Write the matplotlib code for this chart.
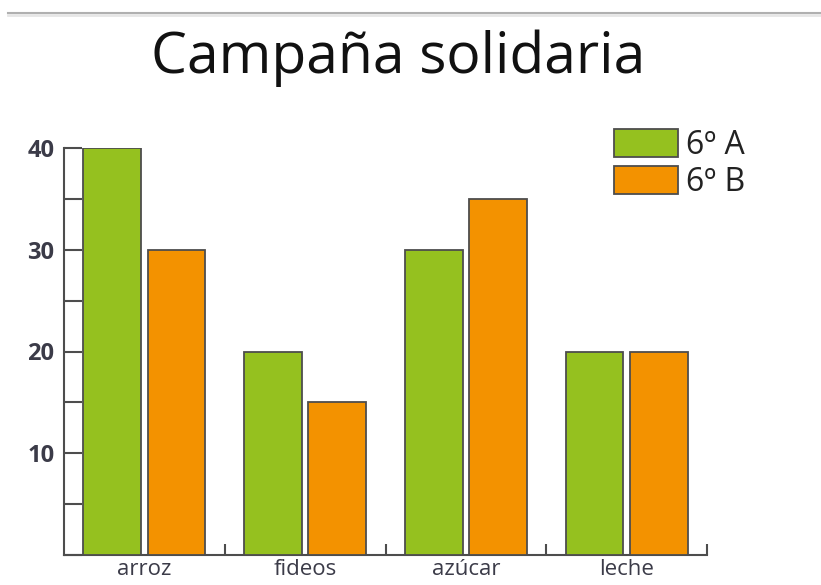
import numpy as np
import matplotlib.pyplot as plt
from matplotlib.lines import Line2D

# data
categories = ["arroz", "fideos", "azúcar", "leche"]
grupo_a = [40, 20, 30, 20]
grupo_b = [30, 15, 35, 20]
series_names = ["6º A", "6º B"]
y_labels = [10, 20, 30, 40]

green = "#95c11f"
orange = "#f39200"
edge = "#4d4d4d"
txt = "#3b3b48"

plt.rcParams['font.family'] = ['Open Sans', 'DejaVu Sans']

fig = plt.figure(figsize=(8.21, 5.85), dpi=100)
ax = fig.add_axes([64/821, 30/585, 643/821, 407/585])

x = np.arange(len(categories))
w = 0.36
ax.bar(x - 0.2, grupo_a, width=w, color=green, edgecolor=edge, linewidth=1.3,
       label=series_names[0], zorder=3)
ax.bar(x + 0.2, grupo_b, width=w, color=orange, edgecolor=edge, linewidth=1.3,
       label=series_names[1], zorder=3)

ax.set_xlim(-0.5, 3.5)
ax.set_ylim(0, 40)

for s in ["top", "right"]:
    ax.spines[s].set_visible(False)
ax.spines["left"].set_color(edge)
ax.spines["bottom"].set_color(edge)
ax.spines["left"].set_linewidth(1.5)
ax.spines["bottom"].set_linewidth(1.5)

ax.set_yticks(np.arange(0, 41, 5))
ax.set_yticklabels(["" if v not in y_labels else str(v) for v in range(0, 41, 5)])
ax.tick_params(axis="y", direction="in", length=13, width=1.5, color=edge,
               labelsize=17, labelcolor=txt, pad=7)
for lab in ax.get_yticklabels():
    lab.set_fontweight("bold")

ax.set_xticks(x)
ax.set_xticklabels(categories)
ax.tick_params(axis="x", length=0, labelsize=16, labelcolor=txt, pad=3)
ax.set_xticks([0.5, 1.5, 2.5, 3.5], minor=True)
ax.tick_params(axis="x", which="minor", direction="in", length=8, width=1.5, color=edge)

fig.text(398/821, 1 - 58/585, "Campaña solidaria", ha="center", va="center",
         fontsize=41, color="#111111")

leg = fig.legend(loc="upper left", bbox_to_anchor=(614/821, 1 - 129/585),
                 frameon=False, fontsize=23, handlelength=2.0, handleheight=0.95,
                 labelspacing=0.12, handletextpad=0.25, borderpad=0,
                 borderaxespad=0)
for t in leg.get_texts():
    t.set_color("#222222")

# thin shadow line at the top of the picture
fig.add_artist(Line2D([8/821, 1], [1 - 13/585] * 2, color="#b0b0b0", lw=1.5,
                      transform=fig.transFigure))
fig.add_artist(Line2D([8/821, 1], [1 - 15/585] * 2, color="#e6e6e6", lw=2,
                      transform=fig.transFigure))

fig.savefig("out.png", dpi=100)
